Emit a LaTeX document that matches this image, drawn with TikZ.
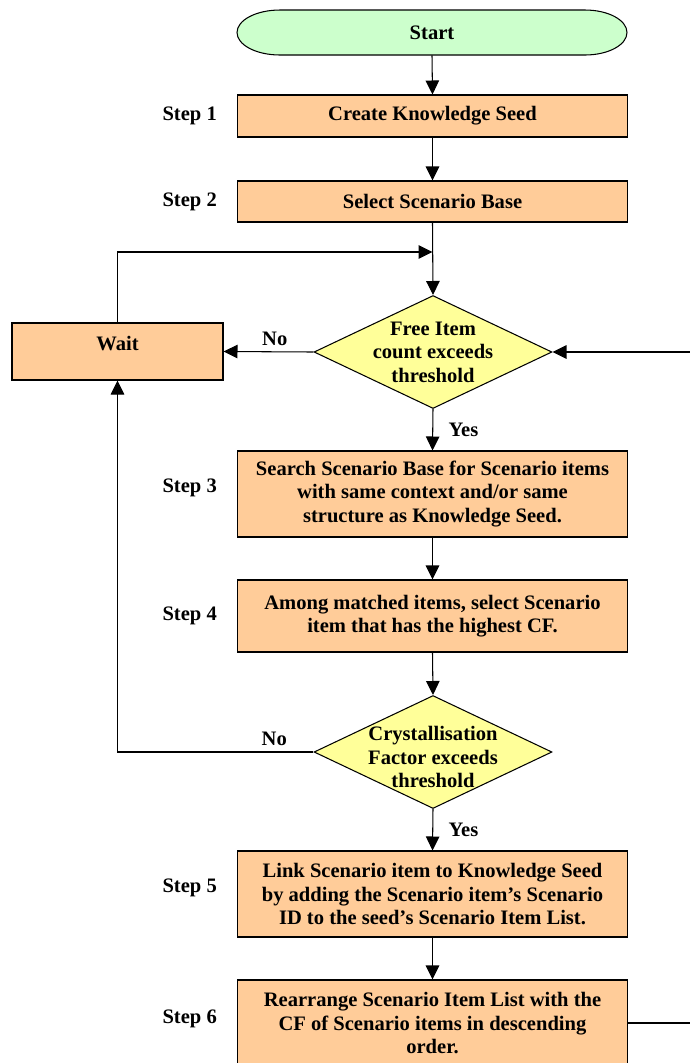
\documentclass[tikz,border=0pt]{standalone}
\usepackage{fontspec}
\setmainfont{Liberation Serif}
\usetikzlibrary{arrows.meta,positioning,shapes.geometric}
\definecolor{boxorange}{HTML}{FFCC99}
\definecolor{startgreen}{HTML}{CCFFCC}
\definecolor{decyellow}{HTML}{FFFF99}

\begin{document}
\begin{tikzpicture}[x=0.02cm, y=-0.02cm,
    font=\fontsize{11.7}{13.3}\selectfont\bfseries,
    stepbox/.style={draw, fill=boxorange, line width=0.6pt, minimum width=7.82cm, inner sep=0pt, align=center},
    decision/.style={diamond, draw, fill=decyellow, line width=0.6pt, minimum width=4.76cm, minimum height=2.26cm, inner sep=0pt},
    flow/.style={-{Triangle[length=0.28cm,width=0.27cm]}, line width=0.6pt}]
  \useasboundingbox (0,0) rectangle (690,1063);

  % start terminal
  \draw[fill=startgreen, line width=0.6pt] (280,10) -- (585,10)
    arc[start angle=-90, end angle=90, x radius=42, y radius=22.5] -- (280,55)
    arc[start angle=90, end angle=270, x radius=43, y radius=22.5] -- cycle;
  \node[minimum height=0.9cm] (start) at (432,32.5) {Start};

  % steps
  \node[stepbox, minimum height=0.84cm] (s1) at (432.5,116) {Create Knowledge Seed};
  \node[stepbox, minimum height=0.82cm] (s2) at (432.5,201.5) {Select Scenario Base};
  \node[decision] (d1) at (433,352) {};
  \node[align=center] (d1text) at (d1) {Free Item\\count exceeds\\threshold};
  \node[stepbox, minimum width=4.22cm, minimum height=1.14cm, text depth=0.32cm] (wait) at (117.5,351.5) {Wait};
  \node[stepbox, minimum height=1.72cm] (s3) at (432.5,494) {Search Scenario Base for Scenario items\\with same context and/or same\\structure as Knowledge Seed.};
  \node[stepbox, minimum height=1.44cm] (s4) at (432.5,616) {Among matched items, select Scenario\\item that has the highest CF.};
  \node[decision] (d2) at (433,752) {};
  \node[align=center, yshift=-0.1cm] (d2text) at (d2) {Crystallisation\\Factor exceeds\\threshold};
  \node[stepbox, minimum height=1.72cm] (s5) at (432.5,894) {Link Scenario item to Knowledge Seed\\by adding the Scenario item’s Scenario\\ID to the seed’s Scenario Item List.};
  \node[stepbox, minimum height=1.72cm] (s6) at (432.5,1023) {Rearrange Scenario Item List with the\\CF of Scenario items in descending\\order.};

  % step labels
  \node[left=0.27cm of s1] (l1) {Step 1};
  \node[left=0.27cm of s2] (l2) {Step 2};
  \node[left=0.27cm of s3, yshift=0.12cm] (l3) {Step 3};
  \node[left=0.27cm of s4] (l4) {Step 4};
  \node[left=0.27cm of s5, yshift=0.12cm] (l5) {Step 5};
  \node[left=0.27cm of s6, yshift=0.08cm] (l6) {Step 6};

  % connectors
  \coordinate (join) at (432.5,252);
  \coordinate (loopin) at (690,352);
  \coordinate (loopout) at (690,1023);
  \draw[flow] (start.south) -- (s1.north);
  \draw[flow] (s1.south) -- (s2.north);
  \draw[flow] (s2.south) -- (d1.north);
  \draw[flow] (wait.north) |- (join);
  \draw[flow] (d1.west) -- node[above, pos=0.43] {No} (wait.east);
  \draw[flow] (loopin) -- (d1.east);
  \draw[flow] (d1.south) -- node[right=0.19cm] {Yes} (s3.north);
  \draw[flow] (s3.south) -- (s4.north);
  \draw[flow] (s4.south) -- (d2.north);
  \draw[flow] (d2.west) -| node[above, pos=0.1] {No} (wait.south);
  \draw[flow] (d2.south) -- node[right=0.19cm] {Yes} (s5.north);
  \draw[flow] (s5.south) -- (s6.north);
  \draw[line width=0.6pt] (s6.east) -- (loopout);
\end{tikzpicture}
\end{document}
